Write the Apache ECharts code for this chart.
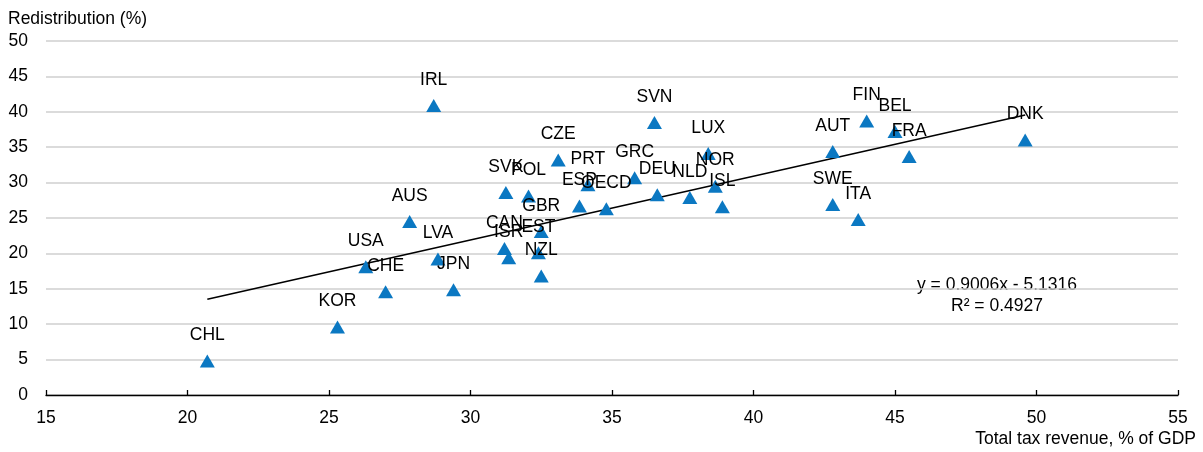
<!DOCTYPE html>
<html><head><meta charset="utf-8">
<script src="https://cdn.jsdelivr.net/npm/echarts@6/dist/echarts.min.js"></script>
<style>html,body{margin:0;padding:0;background:#fff}#c{width:1203px;height:452px}</style>
</head><body><div id="c"></div>
<script>
const countries = ['CHL','KOR','CHE','USA','AUS','LVA','JPN','IRL','SVK','POL','CZE','CAN','ISR','EST','NZL','GBR','ESP','OECD','PRT','GRC','DEU','NLD','SVN','LUX','NOR','ISL','AUT','FIN','BEL','FRA','DNK','SWE','ITA'];
const taxRevenue = [20.7,25.3,27.0,26.3,27.85,28.85,29.4,28.7,31.25,32.05,33.1,31.2,31.35,32.4,32.5,32.5,33.85,34.8,34.15,35.8,36.6,37.75,36.5,38.4,38.65,38.9,42.8,44.0,45.0,45.5,49.6,42.8,43.7];
const redistribution = [4.8,9.6,14.6,18.1,24.5,19.2,14.85,40.9,28.6,28.1,33.2,20.7,19.4,20.1,16.8,23.1,26.7,26.3,29.7,30.7,28.3,27.9,38.5,34.1,29.5,26.6,34.4,38.7,37.2,33.7,36.0,26.9,24.8];
const trendSlope = 0.9006;
const trendIntercept = -5.1316;
const trendR2 = 0.4927;
const xTicks = {min:15, max:55, interval:5};
const yTicks = {min:0, max:50, interval:5};

const points = countries.map((c,i)=>({name:c, value:[taxRevenue[i], redistribution[i]]}));
const xMin = Math.min(...taxRevenue), xMax = Math.max(...taxRevenue);
const trend = [[xMin, trendSlope*xMin+trendIntercept],[xMax, trendSlope*xMax+trendIntercept]];
const font = 'Liberation Sans, Arial, sans-serif';
const fs = 17.5;

const chart = echarts.init(document.getElementById('c'), null, {renderer:'canvas'});
chart.setOption({
  animation:false,
  backgroundColor:'#fff',
  grid:{left:46, right:25, top:41, bottom:57, containLabel:false},
  xAxis:{type:'value', min:xTicks.min, max:xTicks.max, interval:xTicks.interval,
    axisLine:{show:true, onZero:false, lineStyle:{color:'#000', width:1.3}},
    axisTick:{show:true, inside:true, length:5, lineStyle:{color:'#000', width:1.3}},
    axisLabel:{color:'#000', fontSize:fs, fontFamily:font, margin:14},
    splitLine:{show:false}},
  yAxis:{type:'value', min:yTicks.min, max:yTicks.max, interval:yTicks.interval,
    axisLine:{show:false}, axisTick:{show:false},
    axisLabel:{color:'#000', fontSize:fs, fontFamily:font, margin:18},
    splitLine:{show:true, lineStyle:{color:'#cfcfcf', width:1.5}}},
  series:[
    {type:'line', data:trend, symbol:'none', lineStyle:{color:'#000', width:1.5}, z:3, silent:true},
    {type:'scatter', data:points, symbol:'triangle', symbolSize:[15,13],
      itemStyle:{color:'#0b78c2', opacity:1}, z:4,
      label:{show:true, position:'top', distance:10, formatter:'{b}', color:'#000', fontSize:fs, fontFamily:font}}
  ],
  graphic:[
    {type:'text', left:8, top:10, style:{text:'Redistribution (%)', fill:'#000', font:fs+'px '+font}},
    {type:'text', right:7, top:430, style:{text:'Total tax revenue, % of GDP', fill:'#000', font:fs+'px '+font}},
    {type:'text', x:997, y:285, style:{text:'y = '+trendSlope.toFixed(4)+'x - '+Math.abs(trendIntercept).toFixed(4), fill:'#000', font:fs+'px '+font, align:'center', verticalAlign:'middle'}},
    {type:'text', x:997, y:306, style:{text:'R² = '+trendR2.toFixed(4), fill:'#000', font:fs+'px '+font, align:'center', verticalAlign:'middle'}}
  ]
});
</script></body></html>
